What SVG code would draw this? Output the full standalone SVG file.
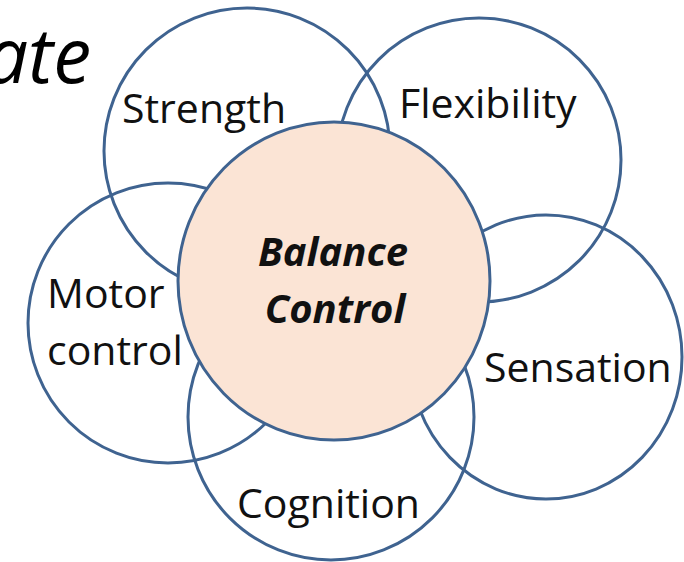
<svg xmlns="http://www.w3.org/2000/svg" width="684" height="562" viewBox="0 0 684 562">
  <style>
    .ring { fill: none; stroke: #3f6390; stroke-width: 3; }
    .core { fill: #fbe4d5; stroke: #3f6390; stroke-width: 3; }
    .lbl { font-family: "Open Sans", "Liberation Sans", sans-serif; font-size: 41px; fill: #111111; }
    .core-lbl { font-family: "Open Sans", "Liberation Sans", sans-serif; font-size: 40px; font-weight: bold; font-style: italic; fill: #111111; text-anchor: middle; }
    .title { font-family: "Open Sans", "Liberation Sans", sans-serif; font-size: 76px; font-style: italic; fill: #000000; text-anchor: end; }
  </style>
  <rect width="684" height="562" fill="#ffffff"/>
  <text class="title" x="91" y="83">ate</text>
  <g id="strength">
    <circle class="ring" cx="247" cy="151" r="143"/>
    <text class="lbl" x="122" y="123">Strength</text>
  </g>
  <g id="flexibility">
    <circle class="ring" cx="479" cy="160" r="142"/>
    <text class="lbl" x="399" y="118">Flexibility</text>
  </g>
  <g id="sensation">
    <ellipse class="ring" cx="546" cy="357" rx="136" ry="142"/>
    <text class="lbl" x="484" y="382">Sensation</text>
  </g>
  <g id="cognition">
    <circle class="ring" cx="331" cy="417" r="143"/>
    <text class="lbl" x="237" y="518">Cognition</text>
  </g>
  <g id="motor-control">
    <circle class="ring" cx="168" cy="323" r="140"/>
    <text class="lbl" x="47" y="308">Motor</text>
    <text class="lbl" x="47" y="365">control</text>
  </g>
  <g id="balance-control">
    <ellipse class="core" cx="334" cy="281" rx="156" ry="159"/>
    <text class="core-lbl" x="333" y="266">Balance</text>
    <text class="core-lbl" x="335" y="323">Control</text>
  </g>
</svg>
